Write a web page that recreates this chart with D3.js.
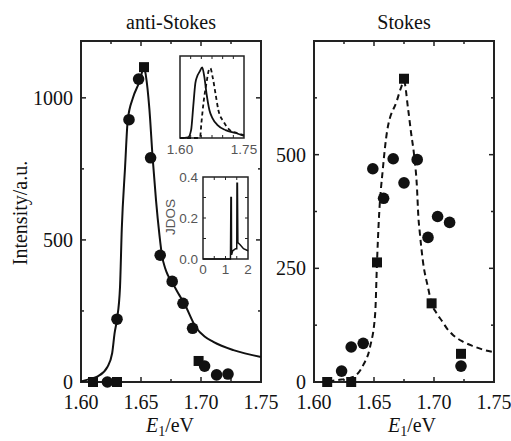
<!DOCTYPE html>
<html lang="en">
<head>
<meta charset="UTF-8">
<title>anti-Stokes / Stokes</title>
<style>
  body, html { margin: 0; padding: 0; background: #fff; }
  svg { display: block; }
  .serif { font-family: "Liberation Serif", "Times New Roman", serif; fill: #111; }
  .sans { font-family: "Liberation Sans", Arial, sans-serif; fill: #555; }
</style>
</head>
<body>
<svg id="svg" width="511" height="441"></svg>
<script src="https://d3js.org/d3.v7.min.js"></script>
<script>
// ---- data ----
const xTicks = [1.60, 1.65, 1.70, 1.75];
const xMinor = [1.625, 1.65, 1.675, 1.70, 1.725];

const antiTicks = [0, 500, 1000];
const antiMinor = [250, 750];
const antiCircles = [[1.622, 0], [1.630, 221], [1.640, 923], [1.648, 1066], [1.658, 789], [1.666, 446],
  [1.676, 354], [1.685, 277], [1.693, 189], [1.703, 56], [1.713, 25], [1.7225, 28]];
const antiSquares = [[1.610, 0], [1.630, 0], [1.6525, 1108], [1.698, 74]];
const antiFit = [[1.600, 2], [1.607, 10], [1.614, 20], [1.622, 53], [1.626, 102], [1.628, 172], [1.630, 221],
  [1.6325, 333], [1.634, 540], [1.6367, 754], [1.639, 923], [1.6433, 1000], [1.649, 1060], [1.6525, 1108],
  [1.654, 1080], [1.657, 960], [1.6597, 789], [1.6625, 640], [1.6653, 520], [1.6675, 445], [1.670, 402],
  [1.6725, 375], [1.676, 350], [1.681, 312], [1.686, 277], [1.6958, 192], [1.703, 160], [1.7103, 141],
  [1.727, 112], [1.75, 88]];

const stokesTicks = [0, 250, 500];
const stokesMinor = [125, 375, 625];
const stokesCircles = [[1.623, 24], [1.631, 77], [1.641, 85], [1.649, 469], [1.658, 404], [1.666, 491],
  [1.675, 438], [1.686, 489], [1.695, 318], [1.703, 364], [1.713, 351], [1.7225, 35]];
const stokesSquares = [[1.611, 0], [1.631, 0], [1.6525, 263], [1.675, 667], [1.698, 173], [1.7225, 62]];
const stokesFit = [[1.612, 1], [1.619, 4], [1.6325, 11], [1.641, 37], [1.6467, 77], [1.651, 151], [1.6525, 263],
  [1.654, 355], [1.6575, 472], [1.661, 553], [1.669, 618], [1.673, 651], [1.675, 662], [1.6783, 603],
  [1.681, 546], [1.6833, 502], [1.6858, 428], [1.687, 362], [1.688, 333], [1.691, 261], [1.695, 208],
  [1.698, 173], [1.702, 152], [1.7067, 134], [1.711, 117], [1.716, 103], [1.724, 89], [1.7325, 79],
  [1.741, 71], [1.749, 66]];

// inset 1: normalised spectra
const insetTicks = [1.60, 1.75];
const insetSolid = [[1.600, 0], [1.619, 0.01], [1.626, 0.11], [1.631, 0.44], [1.636, 0.77], [1.640, 0.86],
  [1.646, 0.93], [1.652, 0.99], [1.657, 0.86], [1.662, 0.63], [1.669, 0.39], [1.676, 0.28], [1.688, 0.18],
  [1.707, 0.11], [1.731, 0.07], [1.75, 0.03]];
const insetDashed = [[1.600, 0], [1.640, 0], [1.647, 0.01], [1.650, 0.2], [1.655, 0.49], [1.662, 0.77],
  [1.668, 0.96], [1.671, 0.98], [1.677, 0.84], [1.683, 0.63], [1.690, 0.39], [1.702, 0.23], [1.717, 0.11],
  [1.733, 0.07], [1.75, 0.04]];

// inset 2: JDOS
const jdosXTicks = [0, 1, 2];
const jdosYTicks = [0.0, 0.2, 0.4];
const jdos = [[0, 0], [1.22, 0], [1.24, 0.30], [1.26, 0.30], [1.27, 0.02], [1.32, 0.04], [1.45, 0.05],
  [1.50, 0.05], [1.51, 0.37], [1.53, 0.37], [1.55, 0.08], [1.65, 0.07], [1.80, 0.05], [2.0, 0.04]];

// ---- drawing ----
const svg = d3.select('#svg');
svg.append('rect').attr('width', 511).attr('height', 441).attr('fill', '#fff');

function panel(opt) {
  const x = d3.scaleLinear().domain([1.60, 1.75]).range([opt.left, opt.left + 180]);
  const y = d3.scaleLinear().domain([0, opt.ymax]).range([382, 41]);
  const g = svg.append('g');

  // ticks (inward, all four sides)
  const tk = (x1, y1, x2, y2) => g.append('line').attr('x1', x1).attr('y1', y1).attr('x2', x2).attr('y2', y2)
    .attr('stroke', '#222').attr('stroke-width', 1.5);
  xMinor.forEach(v => {
    const len = (Math.abs(v - 1.65) < 1e-6 || Math.abs(v - 1.70) < 1e-6) ? 5 : 3;
    tk(x(v), 41, x(v), 41 + len);
    tk(x(v), 382, x(v), 382 - len);
  });
  opt.ticks.forEach(v => {
    tk(opt.left, y(v), opt.left + 5, y(v));
    tk(opt.left + 180, y(v), opt.left + 175, y(v));
  });
  opt.minor.forEach(v => {
    tk(opt.left, y(v), opt.left + 3, y(v));
    tk(opt.left + 180, y(v), opt.left + 177, y(v));
  });

  g.append('rect').attr('x', opt.left).attr('y', 41).attr('width', 180).attr('height', 341)
    .attr('fill', 'none').attr('stroke', '#222').attr('stroke-width', 2);

  // tick labels
  g.selectAll('.xl').data(xTicks).enter().append('text').attr('class', 'serif')
    .attr('x', d => x(d)).attr('y', 409).attr('text-anchor', 'middle').attr('font-size', 20)
    .text(d => d.toFixed(2));
  g.selectAll('.yl').data(opt.ticks).enter().append('text').attr('class', 'serif')
    .attr('x', opt.left - 8).attr('y', d => y(d) + 7).attr('text-anchor', 'end').attr('font-size', 20)
    .text(d => d);

  // title
  g.append('text').attr('class', 'serif').attr('x', opt.left + 90).attr('y', 29)
    .attr('text-anchor', 'middle').attr('font-size', 20).text(opt.title);

  // x label
  const xl = g.append('text').attr('class', 'serif').attr('x', opt.xlab).attr('y', 432)
    .attr('text-anchor', 'middle').attr('font-size', 20);
  xl.append('tspan').attr('font-style', 'italic').text('E');
  xl.append('tspan').attr('font-size', 14).attr('dy', 4).text('1');
  xl.append('tspan').attr('dy', -4).text('/eV');

  // fit curve
  const line = d3.line().x(d => x(d[0])).y(d => y(d[1])).curve(d3.curveMonotoneX);
  g.append('path').datum(opt.fit).attr('d', line).attr('fill', 'none').attr('stroke', '#111')
    .attr('stroke-width', 2).attr('stroke-dasharray', opt.dash);

  // markers
  g.selectAll('.sq').data(opt.squares).enter().append('rect')
    .attr('x', d => x(d[0]) - 5).attr('y', d => y(d[1]) - 5).attr('width', 10).attr('height', 10)
    .attr('fill', '#111');
  g.selectAll('.ci').data(opt.circles).enter().append('circle')
    .attr('cx', d => x(d[0])).attr('cy', d => y(d[1])).attr('r', 5.8).attr('fill', '#111');
  return g;
}

panel({ left: 81, ymax: 1200, ticks: antiTicks, minor: antiMinor, title: 'anti-Stokes', xlab: 170,
  fit: antiFit, dash: null, squares: antiSquares, circles: antiCircles });
panel({ left: 314, ymax: 750, ticks: stokesTicks, minor: stokesMinor, title: 'Stokes', xlab: 412,
  fit: stokesFit, dash: '6,4', squares: stokesSquares, circles: stokesCircles });

// y axis title
svg.append('text').attr('class', 'serif').attr('transform', 'translate(27,213) rotate(-90)')
  .attr('text-anchor', 'middle').attr('font-size', 20).text('Intensity/a.u.');

// ---- inset 1 ----
{
  const x = d3.scaleLinear().domain([1.60, 1.75]).range([180, 244]);
  const y = d3.scaleLinear().domain([0, 1.15]).range([138, 56]);
  const g = svg.append('g');
  g.append('rect').attr('x', 180).attr('y', 56).attr('width', 64).attr('height', 82).attr('fill', '#fff')
    .attr('stroke', '#222').attr('stroke-width', 1.5);
  xMinor.forEach(v => {
    g.append('line').attr('x1', x(v)).attr('x2', x(v)).attr('y1', 56).attr('y2', 59).attr('stroke', '#222');
    g.append('line').attr('x1', x(v)).attr('x2', x(v)).attr('y1', 138).attr('y2', 135).attr('stroke', '#222');
  });
  const line = d3.line().x(d => x(d[0])).y(d => y(d[1])).curve(d3.curveMonotoneX);
  g.append('path').datum(insetSolid).attr('d', line).attr('fill', 'none').attr('stroke', '#111').attr('stroke-width', 1.8);
  g.append('path').datum(insetDashed).attr('d', line).attr('fill', 'none').attr('stroke', '#111')
    .attr('stroke-width', 1.8).attr('stroke-dasharray', '4,3');
  g.selectAll('.il').data(insetTicks).enter().append('text').attr('class', 'sans')
    .attr('x', d => x(d)).attr('y', 154).attr('text-anchor', 'middle').attr('font-size', 13.5)
    .text(d => d.toFixed(2));
}

// ---- inset 2: JDOS ----
{
  const x = d3.scaleLinear().domain([0, 2]).range([203, 248]);
  const y = d3.scaleLinear().domain([0, 0.4]).range([259, 177]);
  const g = svg.append('g');
  g.append('rect').attr('x', 203).attr('y', 177).attr('width', 45).attr('height', 82).attr('fill', '#fff')
    .attr('stroke', '#222').attr('stroke-width', 1.5);
  [0.5, 1, 1.5].forEach(v => {
    g.append('line').attr('x1', x(v)).attr('x2', x(v)).attr('y1', 177).attr('y2', 180).attr('stroke', '#222');
    g.append('line').attr('x1', x(v)).attr('x2', x(v)).attr('y1', 259).attr('y2', 256).attr('stroke', '#222');
  });
  [0.1, 0.2, 0.3].forEach(v => {
    g.append('line').attr('x1', 203).attr('x2', 206).attr('y1', y(v)).attr('y2', y(v)).attr('stroke', '#222');
    g.append('line').attr('x1', 248).attr('x2', 245).attr('y1', y(v)).attr('y2', y(v)).attr('stroke', '#222');
  });
  const line = d3.line().x(d => x(d[0])).y(d => y(d[1]));
  g.append('path').datum(jdos).attr('d', line).attr('fill', 'none').attr('stroke', '#111').attr('stroke-width', 1.5);
  g.selectAll('.jx').data(jdosXTicks).enter().append('text').attr('class', 'sans')
    .attr('x', d => x(d)).attr('y', 274).attr('text-anchor', 'middle').attr('font-size', 13.5).text(d => d);
  g.selectAll('.jy').data(jdosYTicks).enter().append('text').attr('class', 'sans')
    .attr('x', 198).attr('y', d => y(d) + 5).attr('text-anchor', 'end').attr('font-size', 13.5)
    .text(d => d.toFixed(1));
  g.append('text').attr('class', 'sans').attr('transform', 'translate(175,217) rotate(-90)')
    .attr('text-anchor', 'middle').attr('font-size', 13.5).text('JDOS');
}
</script>
</body>
</html>
